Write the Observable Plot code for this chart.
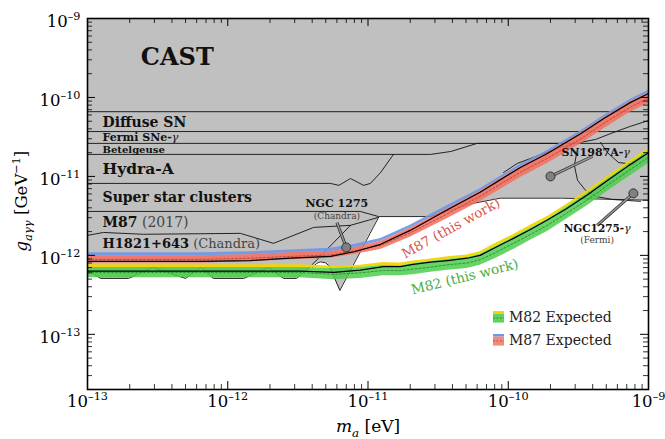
<!DOCTYPE html>
<html>
<head>
<meta charset="utf-8">
<script src="https://cdn.jsdelivr.net/npm/d3@7"></script>
<script src="https://cdn.jsdelivr.net/npm/@observablehq/plot@0.6"></script>
<style>
  html, body { margin: 0; padding: 0; background: #fff; }
  #chart svg { display: block; }
</style>
</head>
<body>
<div id="chart"></div>
<script>
// ---------- axes ----------
const massDomain = [1e-13, 1e-9];        // m_a [eV]
const couplingDomain = [2e-14, 1e-9];    // g_aγγ [GeV^-1]
const gTop = 1e-9;
const xDecades = [1e-13, 1e-12, 1e-11, 1e-10, 1e-9];
const yDecades = [1e-13, 1e-12, 1e-11, 1e-10, 1e-9];
const mantissas = [2, 3, 4, 5, 6, 7, 8, 9];

// ---------- existing bounds (lower edge of each excluded region) ----------
const castMass = [1e-13, 1e-9];
const castG = [6.6e-11, 6.6e-11];

const diffuseSNMass = [1e-13, 1e-9];
const diffuseSNG = [3.7e-11, 3.7e-11];

const fermiSNeMass = [1e-13, 3.0e-10, 4.2e-10, 5.4e-10, 7.4e-10, 1e-9];
const fermiSNeG = [2.62e-11, 2.62e-11, 2.94e-11, 3.5e-11, 4.3e-11, 5.1e-11];

const betelgeuseMass = [1e-13, 2.8e-11, 3.9e-11, 6.0e-11, 1e-9];
const betelgeuseG = [1.9e-11, 1.9e-11, 2.07e-11, 2.62e-11, 2.62e-11];

const hydraMass = [1e-13, 5.4e-12, 6.2e-12, 7.5e-12, 9.3e-12, 1.04e-11, 1.23e-11, 1.52e-11];
const hydraG = [8.15e-12, 8.15e-12, 7.7e-12, 9.4e-12, 7.7e-12, 8.15e-12, 1.12e-11, 1.9e-11];

const sscMass = [1e-13, 8.8e-12, 1.19e-11, 2.8e-11, 5.4e-11, 8.8e-11, 2.4e-10, 1e-9];
const sscG = [3.6e-12, 3.6e-12, 3.1e-12, 3.1e-12, 4.5e-12, 5.3e-12, 5.3e-12, 5.0e-12];
const sscTailMass = [9.25e-11, 1.16e-10, 2.24e-10, 3.0e-10];
const sscTailG = [1.12e-11, 1.46e-11, 2.26e-11, 2.62e-11];

const m87OldMass = [1e-13, 1.3e-13, 2.5e-13, 1.23e-12, 2.12e-12, 4.1e-12, 7.5e-12, 1.19e-11];
const m87OldG = [1.79e-12, 1.95e-12, 1.85e-12, 1.9e-12, 1.42e-12, 2.26e-12, 2.4e-12, 3.03e-12];

const h1821Mass = [1e-13, 1.24e-13, 1.96e-13, 2.91e-13, 5.0e-13, 6.4e-13, 7.9e-13, 1.3e-12, 1.95e-12, 2.5e-12, 3.1e-12, 3.9e-12, 7.5e-12];
const h1821G = [6.5e-13, 5.1e-13, 5.1e-13, 7.0e-13, 5.1e-13, 7.0e-13, 5.1e-13, 5.1e-13, 7.0e-13, 5.1e-13, 5.1e-13, 7.3e-13, 2.4e-12];

const ngcChandraMass = [4.02e-12, 4.3e-12, 4.58e-12, 4.98e-12, 5.31e-12, 6.3e-12, 1.19e-11];
const ngcChandraG = [7.0e-13, 7.92e-13, 8.27e-13, 8.04e-13, 7.3e-13, 3.6e-13, 3.03e-12];

// Fermi-LAT NGC 1275 contour pieces
const ngcFermiOuterMass = [3.12e-10, 2.96e-10, 3.12e-10, 3.56e-10, 4.2e-10, 5.53e-10, 8.77e-10];
const ngcFermiOuterG = [2.26e-11, 1.38e-11, 8.9e-12, 6.65e-12, 5.58e-12, 5.1e-12, 4.83e-12];
const ngcFermiInnerMass = [4.55e-10, 5.1e-10, 6.11e-10, 7.8e-10, 9.7e-10];
const ngcFermiInnerG = [2.69e-11, 2.0e-11, 1.5e-11, 1.42e-11, 2.13e-11];

// ---------- M87 (this work) ----------
const m87Mass = [1e-13, 6.4e-13, 1.45e-12, 2.8e-12, 5.4e-12, 8.1e-12, 1.23e-11, 2.0e-11, 3.6e-11, 6.3e-11, 1.22e-10, 1.9e-10, 3.3e-10, 4.8e-10, 7.4e-10, 1e-9];
const m87Observed = [8.4e-13, 8.4e-13, 8.6e-13, 9.2e-13, 9.7e-13, 1.12e-12, 1.38e-12, 2.07e-12, 3.7e-12, 6.3e-12, 1.30e-11, 1.95e-11, 3.5e-11, 5.4e-11, 8.6e-11, 1.12e-10];
const m87Expected = [8.9e-13, 8.9e-13, 9.2e-13, 9.7e-13, 1.01e-12, 1.14e-12, 1.34e-12, 1.92e-12, 3.3e-12, 5.6e-12, 1.13e-11, 1.70e-11, 3.0e-11, 4.7e-11, 7.5e-11, 9.8e-11];
const m87TwoSigmaHi = [1.08e-12, 1.08e-12, 1.11e-12, 1.17e-12, 1.23e-12, 1.38e-12, 1.64e-12, 2.4e-12, 4.2e-12, 7.0e-12, 1.42e-11, 2.13e-11, 3.8e-11, 5.9e-11, 9.4e-11, 1.23e-10];
const m87OneSigmaHi = [9.9e-13, 9.9e-13, 1.02e-12, 1.08e-12, 1.12e-12, 1.26e-12, 1.50e-12, 2.2e-12, 3.8e-12, 6.5e-12, 1.32e-11, 1.98e-11, 3.55e-11, 5.5e-11, 8.8e-11, 1.14e-10];
const m87OneSigmaLo = [8.0e-13, 8.0e-13, 8.3e-13, 8.8e-13, 9.2e-13, 1.03e-12, 1.19e-12, 1.69e-12, 2.86e-12, 4.8e-12, 9.7e-12, 1.46e-11, 2.6e-11, 4.0e-11, 6.5e-11, 8.4e-11];

// ---------- M82 (this work) ----------
const m82Mass = [1e-13, 6.4e-13, 3.3e-12, 5.7e-12, 8.8e-12, 1.29e-11, 1.7e-11, 2.1e-11, 2.8e-11, 3.7e-11, 5.1e-11, 6.3e-11, 7.9e-11, 1.09e-10, 1.44e-10, 1.9e-10, 2.6e-10, 3.7e-10, 5.1e-10, 7.1e-10, 1e-9];
const m82Observed = [6.3e-13, 6.3e-13, 6.3e-13, 6.1e-13, 6.5e-13, 7.2e-13, 7.2e-13, 7.7e-13, 8.2e-13, 8.6e-13, 9.2e-13, 1.0e-12, 1.23e-12, 1.64e-12, 2.13e-12, 2.8e-12, 3.9e-12, 5.9e-12, 8.9e-12, 1.34e-11, 2.0e-11];
const m82Expected = [6.05e-13, 6.05e-13, 6.05e-13, 5.75e-13, 6.0e-13, 6.45e-13, 6.4e-13, 6.7e-13, 7.1e-13, 7.6e-13, 8.0e-13, 8.8e-13, 1.06e-12, 1.42e-12, 1.84e-12, 2.4e-12, 3.4e-12, 5.1e-12, 7.7e-12, 1.16e-11, 1.74e-11];
const m82TwoSigmaHi = [7.6e-13, 7.6e-13, 7.6e-13, 7.3e-13, 7.5e-13, 8.1e-13, 8.0e-13, 8.5e-13, 9.0e-13, 9.6e-13, 1.01e-12, 1.11e-12, 1.38e-12, 1.84e-12, 2.4e-12, 3.1e-12, 4.4e-12, 6.7e-12, 1.0e-11, 1.5e-11, 2.26e-11];
const m82OneSigmaHi = [7.0e-13, 7.0e-13, 7.0e-13, 6.8e-13, 7.0e-13, 7.5e-13, 7.4e-13, 7.9e-13, 8.4e-13, 8.9e-13, 9.4e-13, 1.03e-12, 1.26e-12, 1.69e-12, 2.2e-12, 2.85e-12, 4.1e-12, 6.1e-12, 9.2e-12, 1.38e-11, 2.07e-11];
const m82OneSigmaLo = [5.2e-13, 5.2e-13, 5.2e-13, 4.9e-13, 5.1e-13, 5.5e-13, 5.5e-13, 5.7e-13, 6.1e-13, 6.5e-13, 6.8e-13, 7.5e-13, 8.9e-13, 1.19e-12, 1.55e-12, 2.0e-12, 2.86e-12, 4.3e-12, 6.5e-12, 9.7e-12, 1.46e-11];

// ---------- point-like bounds with their callouts ----------
const markerNames = ["NGC 1275 (Chandra)", "SN1987A-γ", "NGC1275-γ"];
const markerMass = [7.0e-12, 2.0e-10, 7.8e-10];
const markerG = [1.26e-12, 1.0e-11, 6.1e-12];
const calloutMass = [6.0e-12, 4.0e-10, 4.3e-10];
const calloutG = [2.6e-12, 1.8e-11, 2.4e-12];

// ---------- tables built from the arrays ----------
const rows = (mass, g) => mass.map((m, i) => ({m, g: g[i]}));
const regions = [
  rows(castMass, castG), rows(diffuseSNMass, diffuseSNG), rows(fermiSNeMass, fermiSNeG),
  rows(betelgeuseMass, betelgeuseG), rows(hydraMass, hydraG), rows(sscMass, sscG),
  rows(m87OldMass, m87OldG), rows(h1821Mass, h1821G), rows(ngcChandraMass, ngcChandraG)
];
const edges = [
  ...regions,
  rows(sscTailMass, sscTailG),
  rows(ngcFermiOuterMass, ngcFermiOuterG),
  rows(ngcFermiInnerMass, ngcFermiInnerG)
];
const m87 = m87Mass.map((m, i) => ({m, obs: m87Observed[i], exp: m87Expected[i],
  hi2: m87TwoSigmaHi[i], hi1: m87OneSigmaHi[i], lo1: m87OneSigmaLo[i]}));
const m82 = m82Mass.map((m, i) => ({m, obs: m82Observed[i], exp: m82Expected[i],
  hi2: m82TwoSigmaHi[i], hi1: m82OneSigmaHi[i], lo1: m82OneSigmaLo[i]}));
const markers = markerNames.map((name, i) => ({name, m: markerMass[i], g: markerG[i],
  m2: calloutMass[i], g2: calloutG[i]}));

// region labels: **bold**, ~grey~, $italic$
const labelsLeft = [
  {t: "**CAST**", m: 2.4e-13, g: 2.6e-10, s: 24},
  {t: "**Diffuse SN**", m: 1.28e-13, g: 4.2e-11, s: 14},
  {t: "**Fermi SNe-**$γ$", m: 1.28e-13, g: 2.8e-11, s: 11},
  {t: "**Betelgeuse**", m: 1.28e-13, g: 2.0e-11, s: 10},
  {t: "**Hydra-A**", m: 1.28e-13, g: 1.06e-11, s: 15.5},
  {t: "**Super star clusters**", m: 1.28e-13, g: 4.7e-12, s: 14},
  {t: "**M87** ~(2017)~", m: 1.28e-13, g: 2.26e-12, s: 14},
  {t: "**H1821+643** ~(Chandra)~", m: 1.28e-13, g: 1.23e-12, s: 13},
  {t: "**SN1987A-**$γ$", m: 2.4e-10, g: 1.8e-11, s: 11}
];
const labelsCentered = [
  {t: "**NGC 1275**", m: 6.0e-12, g: 4.05e-12, s: 11},
  {t: "~(Chandra)~", m: 6.0e-12, g: 2.86e-12, s: 9},
  {t: "**NGC1275-**$γ$", m: 4.3e-10, g: 1.95e-12, s: 10.5},
  {t: "~(Fermi)~", m: 4.3e-10, g: 1.42e-12, s: 9}
];
const curveLabels = [
  {t: "M87 (this work)", m: 3.9e-11, g: 2.2e-12, r: -29, c: "#d9534f"},
  {t: "M82 (this work)", m: 4.9e-11, g: 5.3e-13, r: -14, c: "#3fae3f"}
];

const xMinor = xDecades.slice(0, -1).flatMap(d => mantissas.map(k => k * d));
const yMinor = [1e-14, ...yDecades.slice(0, -1)].flatMap(d => mantissas.map(k => k * d)).filter(v => v >= 2e-14);

const W = 665, H = 439, mL = 87, mR = 17, mT = 18, mB = 50;
const iw = W - mL - mR, ih = H - mT - mB;
const MAJ = 8, MIN = 5;
const grey = "#c0c0c0";
const fmt = d => `10^{–${Math.round(-Math.log10(d))}}`;

const svg = Plot.plot({
  width: W, height: H,
  marginLeft: mL, marginRight: mR, marginTop: mT, marginBottom: mB,
  x: {type: "log", domain: massDomain},
  y: {type: "log", domain: couplingDomain},
  style: {fontFamily: "DejaVu Serif", fontSize: "17px", background: "#fff", color: "#000"},
  marks: [
    // excluded regions and their edges
    ...regions.map(b => Plot.areaY(b, {x: "m", y1: "g", y2: gTop, fill: grey})),
    ...edges.map(b => Plot.line(b, {x: "m", y: "g", stroke: "#111", strokeWidth: 0.9})),

    // expected bands
    Plot.areaY(m87, {x: "m", y1: "hi1", y2: "hi2", fill: "#7097e6", fillOpacity: 0.92}),
    Plot.areaY(m87, {x: "m", y1: "lo1", y2: "hi1", fill: "#f2705e", fillOpacity: 0.88}),
    Plot.line(m87, {x: "m", y: "exp", stroke: "#b23a3a", strokeWidth: 0.8, strokeDasharray: "2,2"}),
    Plot.areaY(m82, {x: "m", y1: "hi1", y2: "hi2", fill: "#f5d400", fillOpacity: 0.95}),
    Plot.areaY(m82, {x: "m", y1: "lo1", y2: "hi1", fill: "#4ccd4c", fillOpacity: 0.85}),
    Plot.line(m82, {x: "m", y: "exp", stroke: "#23822a", strokeWidth: 0.8, strokeDasharray: "2,2"}),

    // observed limits
    Plot.line(m87, {x: "m", y: "obs", stroke: "#000", strokeWidth: 1.2}),
    Plot.line(m82, {x: "m", y: "obs", stroke: "#000", strokeWidth: 1.2}),

    // point bounds with callouts
    Plot.link(markers, {x1: "m", y1: "g", x2: "m2", y2: "g2", stroke: "#333", strokeWidth: 3}),
    Plot.link(markers, {x1: "m", y1: "g", x2: "m2", y2: "g2", stroke: "#9a9a9a", strokeWidth: 1.4}),
    Plot.dot(markers, {x: "m", y: "g", r: 4.5, fill: "#808080", stroke: "#333", strokeWidth: 1}),

    // labels
    ...labelsLeft.map(l => Plot.text([l], {x: "m", y: "g", text: "t", textAnchor: "start", lineAnchor: "bottom", fontSize: l.s, fill: "#111"})),
    ...labelsCentered.map(l => Plot.text([l], {x: "m", y: "g", text: "t", textAnchor: "middle", lineAnchor: "bottom", fontSize: l.s, fill: "#111"})),
    ...curveLabels.map(l => Plot.text([l], {x: "m", y: "g", text: "t", rotate: l.r, fontSize: 13.5, fill: l.c, lineAnchor: "middle"})),

    // inward ticks on all four sides
    Plot.tickX(xDecades, {x: d => d, insetTop: ih - MAJ, stroke: "#000", strokeWidth: 1}),
    Plot.tickX(xDecades, {x: d => d, insetBottom: ih - MAJ, stroke: "#000", strokeWidth: 1}),
    Plot.tickX(xMinor, {x: d => d, insetTop: ih - MIN, stroke: "#000", strokeWidth: 0.8}),
    Plot.tickX(xMinor, {x: d => d, insetBottom: ih - MIN, stroke: "#000", strokeWidth: 0.8}),
    Plot.tickY(yDecades, {y: d => d, insetRight: iw - MAJ, stroke: "#000", strokeWidth: 1}),
    Plot.tickY(yDecades, {y: d => d, insetLeft: iw - MAJ, stroke: "#000", strokeWidth: 1}),
    Plot.tickY(yMinor, {y: d => d, insetRight: iw - MIN, stroke: "#000", strokeWidth: 0.8}),
    Plot.tickY(yMinor, {y: d => d, insetLeft: iw - MIN, stroke: "#000", strokeWidth: 0.8}),
    Plot.frame({stroke: "#000", strokeWidth: 1.6}),

    // tick labels and x-axis title
    Plot.axisX({ticks: xDecades, tickSize: 0, tickPadding: 6, tickFormat: fmt, label: null, fontSize: 16.5}),
    Plot.axisY({ticks: yDecades, tickSize: 0, tickPadding: 7, tickFormat: fmt, label: null, fontSize: 16.5, dy: 3}),
    Plot.text(["$m$_{a} [eV]"], {frameAnchor: "bottom", textAnchor: "middle", dy: 37, lineAnchor: "middle", fontSize: 17})
  ]
});
document.getElementById("chart").append(svg);

// y-axis title, reading upwards along the left edge of the frame
d3.select(svg).append("text")
  .attr("transform", `translate(${mL - 60},${mT + ih / 2 + 48}) rotate(-90)`)
  .attr("text-anchor", "start")
  .attr("font-family", "DejaVu Serif")
  .attr("font-size", 16.5)
  .attr("fill", "#000")
  .text("$g$_{aγγ} [GeV^{−1}]");

// light markup for bold / italic / grey runs and sub/superscripts
function richText(node) {
  const base = parseFloat(getComputedStyle(node).fontSize);
  const src = node.textContent;
  const sel = d3.select(node).text(null).style("white-space", "pre");
  const re = /\*\*(.+?)\*\*|\$(.+?)\$|_\{(.+?)\}|\^\{(.+?)\}|~(.+?)~|([^*$_^~]+)/g;
  let shift = 0, m;
  while ((m = re.exec(src))) {
    const t = sel.append("tspan");
    let dy = 0;
    if (m[1] != null) t.attr("font-weight", "bold").text(m[1]);
    else if (m[2] != null) t.attr("font-style", "italic").text(m[2]);
    else if (m[3] != null) { t.attr("font-style", "italic").attr("font-size", base * 0.7).text(m[3]); dy = base * 0.28; }
    else if (m[4] != null) { t.attr("font-size", base * 0.68).text(m[4]); dy = -base * 0.42; }
    else if (m[5] != null) t.attr("font-weight", "normal").attr("fill", "#444").text(m[5]);
    else t.text(m[6]);
    if (dy !== shift) t.attr("dy", dy - shift);
    shift = dy;
  }
}
d3.select(svg).selectAll("text").each(function () {
  if (/\*\*|\$|~|_\{|\^\{/.test(this.textContent)) richText(this);
});

// legend for the expected bands
const legendItems = [
  {label: "M82 Expected", top: "#f5d400", band: "#5fd35f", dash: "#23822a"},
  {label: "M87 Expected", top: "#7097e6", band: "#f48a7a", dash: "#b23a3a"}
];
const lg = d3.select(svg).append("g")
  .attr("font-family", "DejaVu Serif").attr("font-size", 14).attr("text-anchor", "start");
legendItems.forEach((it, i) => {
  const y0 = 311 + i * 23;
  lg.append("rect").attr("x", 493).attr("y", y0).attr("width", 11).attr("height", 2.6).attr("fill", it.top);
  lg.append("rect").attr("x", 493).attr("y", y0 + 2.6).attr("width", 11).attr("height", 9).attr("fill", it.band);
  lg.append("line").attr("x1", 493).attr("x2", 504).attr("y1", y0 + 7).attr("y2", y0 + 7)
    .attr("stroke", it.dash).attr("stroke-width", 0.8).attr("stroke-dasharray", "2,1.5");
  lg.append("text").attr("x", 509).attr("y", y0 + 11).attr("fill", "#222").text(it.label);
});
</script>
</body>
</html>
